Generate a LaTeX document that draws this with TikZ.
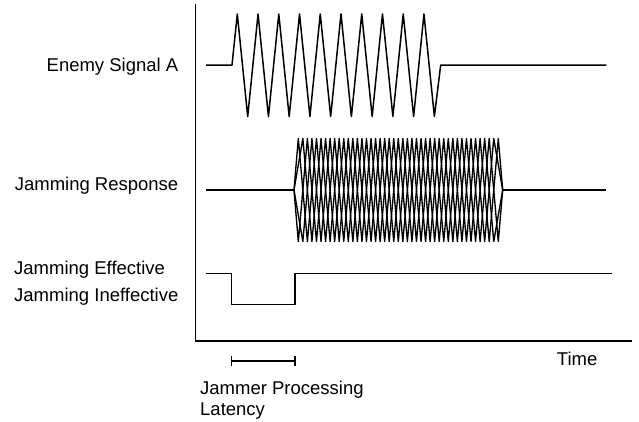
\documentclass[tikz,border=0pt]{standalone}
\usepackage{fontspec}
\setmainfont{Liberation Sans}
\begin{document}
\begin{tikzpicture}[x=1pt,y=-1pt,
  sig/.style={line width=1.5pt,line join=round},
  mesh/.style={line width=1.35pt,line join=round},
  lbl/.style={inner sep=0pt,font=\fontsize{18.5}{22}\selectfont}]
\useasboundingbox (0,0) rectangle (639,421);
% axes
\coordinate (axtop) at (195.7,3.5);
\coordinate (axorg) at (195.7,341);
\coordinate (axend) at (632,341);
\draw[line width=1.5pt] (axtop) -- (axorg) -- (axend);
% labels
\node[lbl,anchor=base east] (la) at (178.5,71.7) {Enemy Signal A};
\node[lbl,anchor=base east] (lr) at (178.5,190.7) {Jamming Response};
\node[lbl,anchor=base west] (le) at (14,274.3) {Jamming Effective};
\node[lbl,anchor=base west] (li) at (14,301) {Jamming Ineffective};
\node[lbl,anchor=base west] (lt) at (556.7,365) {Time};
\node[lbl,anchor=base west] (lj) at (200,394) {Jammer Processing};
\node[lbl,anchor=base west] (ll) at (200,415.7) {Latency};
% enemy signal
\coordinate (es) at (206,65);
\coordinate (ee) at (606.3,65);
\draw[sig] (es) -- (232,65)
  \foreach \k in {0,...,9} { -- ({237.3+\k*20.74},14) -- ({247.7+\k*20.74},116.5) }
  -- (440.7,65) -- (ee);
% jamming response
\coordinate (js) at (206,190);
\coordinate (jl) at (294,190);
\coordinate (jr) at (502.7,190);
\coordinate (je) at (606.3,190);
\draw[sig] (js) -- (jl);
\draw[sig] (jr) -- (je);
\draw[mesh] (jl) \foreach \m in {0,2,...,44} { -- ({298.3+\m*4.545},{mod(\m,4)==0 ? 138.5 : 241.5}) } -- (jr);
\draw[mesh] (jl) \foreach \m in {0,2,...,44} { -- ({298.3+\m*4.545},{mod(\m,4)==2 ? 138.5 : 241.5}) } -- (jr);
\draw[mesh] (jl) \foreach \m in {1,3,...,43} { -- ({298.3+\m*4.545},{mod(\m,4)==1 ? 138.5 : 241.5}) } -- (jr);
\draw[mesh] (jl) \foreach \m in {1,3,...,43} { -- ({298.3+\m*4.545},{mod(\m,4)==3 ? 138.5 : 241.5}) } -- (jr);
% effectiveness
\coordinate (fs) at (206,273.3);
\coordinate (fe) at (611.7,273.3);
\draw[sig] (fs) -- (231.7,273.3) -- (231.7,304.3) -- (295,304.3) -- (295,273.3) -- (fe);
% latency bracket
\coordinate (b1) at (231.7,361);
\coordinate (b2) at (295,361);
\draw[sig] (b1) -- (b2);
\draw[sig] ([yshift=-5pt]b1) -- ([yshift=5pt]b1);
\draw[sig] ([yshift=-5pt]b2) -- ([yshift=5pt]b2);
\end{tikzpicture}
\end{document}
